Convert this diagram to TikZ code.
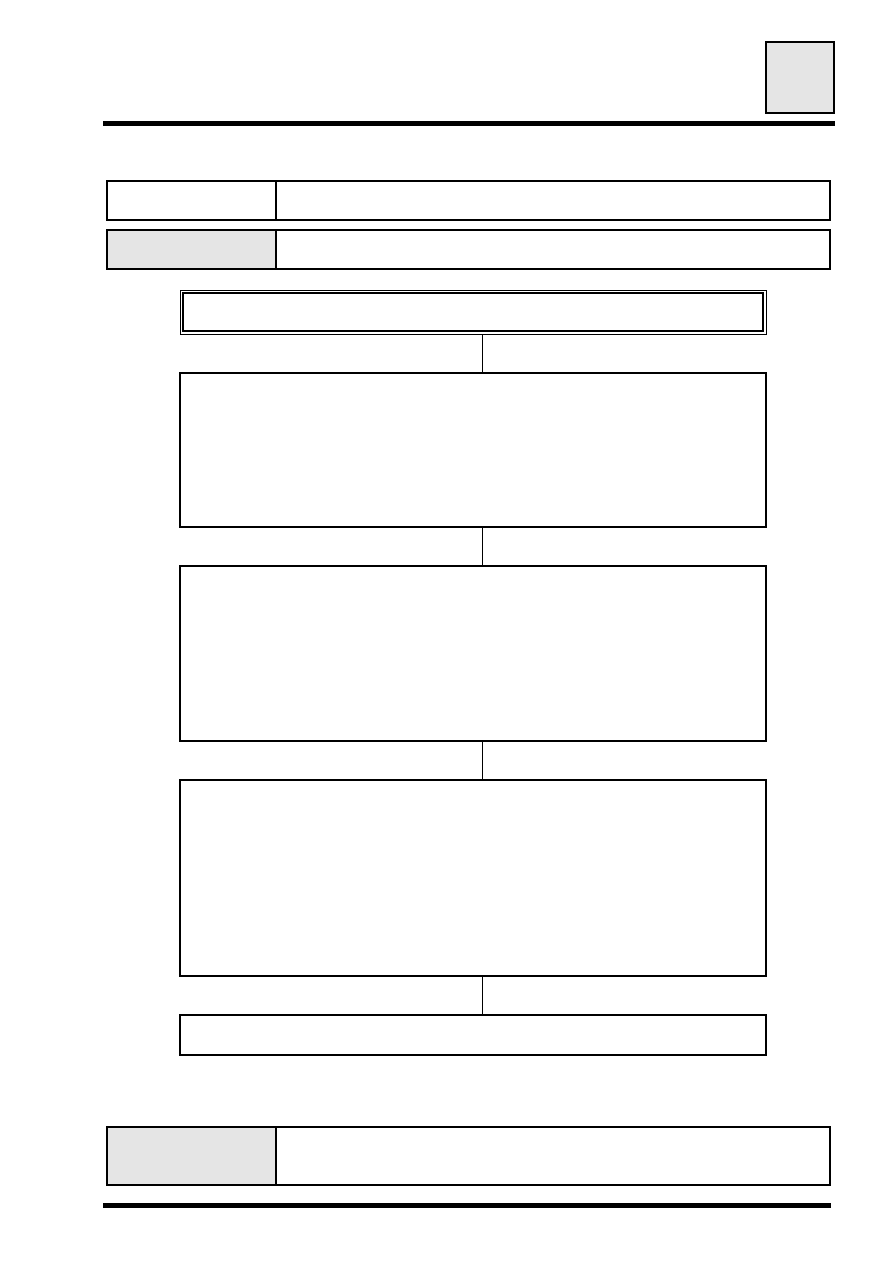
\documentclass[tikz,border=0pt]{standalone}
\usepackage{tikz}

\begin{document}
\begin{tikzpicture}[x=1pt, y=-1pt, cell/.style={draw, line width=1.3pt, rectangle, outer sep=0pt, inner sep=0pt, anchor=north west}, shaded/.style={cell, fill=black!10}, stepbox/.style={cell, minimum width=586pt}, rule/.style={line width=5pt}, link/.style={line width=1.3pt}]
      \useasboundingbox (0,0) rectangle (893,1263);

      % page tab and header rule
      \node[shaded, minimum width=68pt, minimum height=71pt] (tab) at (766, 42) {};
      \draw[line width=2.2pt] (tab.north west) -- (tab.north east);
      \coordinate (hl) at (103, 123.5);
      \coordinate (hr) at (835, 123.5);
      \draw[rule] (hl) -- (hr);

      % info rows
      \node[cell, minimum width=169pt, minimum height=39pt] (namekey) at (107, 181) {};
      \node[cell, minimum width=554pt, minimum height=39pt] (nameval) at (276, 181) {};
      \node[shaded, minimum width=169pt, minimum height=39pt] (codekey) at (107, 230) {};
      \node[cell, minimum width=554pt, minimum height=39pt] (codeval) at (276, 230) {};
      \draw[line width=2.5pt] (codekey.south west) -- (codeval.south east);

      % flow
      \node[stepbox, line width=0.9pt, minimum height=44pt] (title) at (180, 290) {};
      \node[draw, line width=1.8pt, minimum width=580pt, minimum height=38pt, inner sep=0pt] (titlein) at (title.center) {};
      \node[stepbox, minimum height=154pt] (stepa) at (180, 373) {};
      \node[stepbox, minimum height=175pt] (stepb) at (180, 566) {};
      \node[stepbox, minimum height=196pt] (stepc) at (180, 780) {};
      \node[stepbox, minimum height=40pt] (stepd) at (180, 1015) {};

      \coordinate (spine) at (482.5, 0);
      \draw[link] (title.south -| spine) -- (stepa.north -| spine);
      \draw[link] (stepa.south -| spine) -- (stepb.north -| spine);
      \draw[link] (stepb.south -| spine) -- (stepc.north -| spine);
      \draw[link] (stepc.south -| spine) -- (stepd.north -| spine);

      % footer
      \node[shaded, minimum width=169pt, minimum height=58pt] (notekey) at (107, 1127) {};
      \node[cell, minimum width=554pt, minimum height=58pt] (noteval) at (276, 1127) {};
      \coordinate (fl) at (103, 1205.5);
      \coordinate (fr) at (831, 1205.5);
      \draw[rule] (fl) -- (fr);
    \end{tikzpicture}
\end{document}
